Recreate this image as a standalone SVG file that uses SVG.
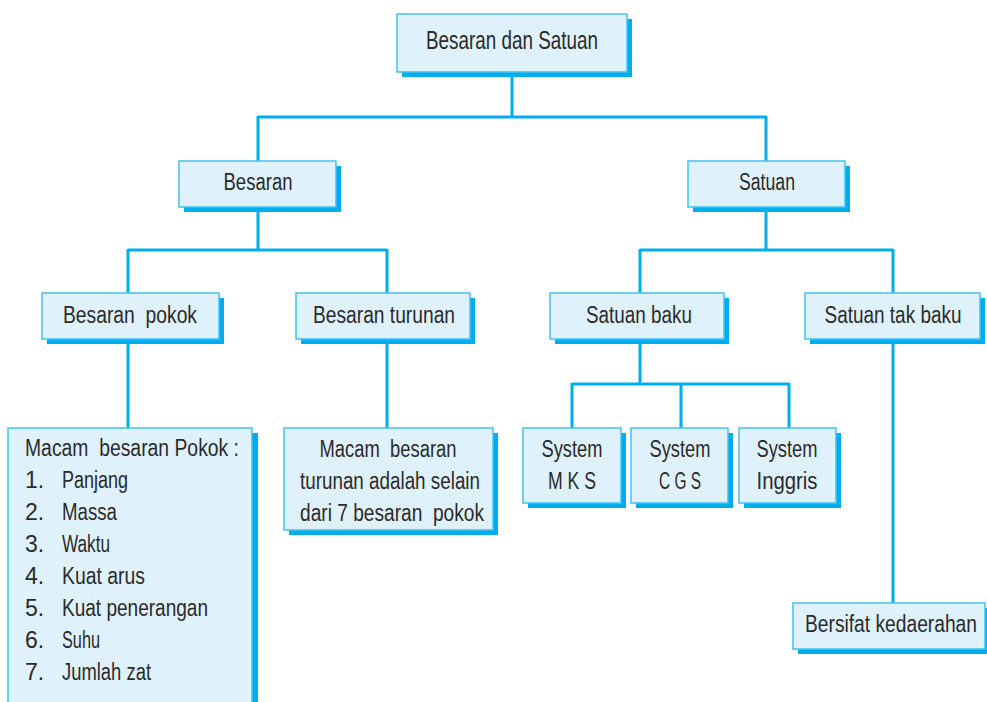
<svg xmlns="http://www.w3.org/2000/svg" width="987" height="702" viewBox="0 0 987 702">
<style>
.sh{fill:#00aeef}
.bx{fill:#dff1fb;stroke:#45c1ef;stroke-width:1.5}
text{font-family:"Liberation Sans",Arial,sans-serif;font-size:23px;fill:#2b2b2b}
.c{text-anchor:middle}
.ln{fill:none;stroke:#00aeef;stroke-width:3}
</style>
<rect width="987" height="702" fill="#fff"/>
<g id="connectors">
<path class="ln" d="M512 72V117M258 117H766M258 116V161M766 116V161"/>
<path class="ln" d="M258 207V250M128 250H387M128 249V293M387 249V293"/>
<path class="ln" d="M766 207V250M640 250H893M640 249V293M893 249V293"/>
<path class="ln" d="M128 339V428M387 339V428"/>
<path class="ln" d="M640 339V384M572 384H789M572 383V428M681 383V428M789 383V428"/>
<path class="ln" d="M893 339V603"/>
</g>
<g id="root"><rect class="sh" x="402" y="19" width="230" height="58"/><rect class="bx" x="397" y="14" width="230" height="58"/><text class="c" x="512" y="49" style="font-size:25px" textLength="172" lengthAdjust="spacingAndGlyphs">Besaran dan Satuan</text></g>
<g id="besaran"><rect class="sh" x="184" y="166" width="157" height="46"/><rect class="bx" x="179" y="161" width="157" height="46"/><text class="c" x="258" y="190" textLength="69" lengthAdjust="spacingAndGlyphs">Besaran</text></g>
<g id="satuan"><rect class="sh" x="693" y="166" width="157" height="46"/><rect class="bx" x="688" y="161" width="157" height="46"/><text class="c" x="767" y="190" textLength="56" lengthAdjust="spacingAndGlyphs">Satuan</text></g>
<g id="besaran-pokok"><rect class="sh" x="47" y="298" width="177" height="46"/><rect class="bx" x="42" y="293" width="177" height="46"/><text class="c" x="130" y="323" xml:space="preserve" textLength="134" lengthAdjust="spacingAndGlyphs">Besaran  pokok</text></g>
<g id="besaran-turunan"><rect class="sh" x="301" y="298" width="174" height="46"/><rect class="bx" x="296" y="293" width="174" height="46"/><text class="c" x="384" y="323" textLength="142" lengthAdjust="spacingAndGlyphs">Besaran turunan</text></g>
<g id="satuan-baku"><rect class="sh" x="555" y="298" width="174" height="46"/><rect class="bx" x="550" y="293" width="174" height="46"/><text class="c" x="639" y="323" textLength="106" lengthAdjust="spacingAndGlyphs">Satuan baku</text></g>
<g id="satuan-tak-baku"><rect class="sh" x="810" y="298" width="175" height="46"/><rect class="bx" x="805" y="293" width="175" height="46"/><text class="c" x="893" y="323" textLength="137" lengthAdjust="spacingAndGlyphs">Satuan tak baku</text></g>
<g id="pokok-list"><rect class="sh" x="13" y="433" width="245" height="280"/><rect class="bx" x="8" y="428" width="244" height="280"/>
<text x="25" y="456" xml:space="preserve" textLength="214" lengthAdjust="spacingAndGlyphs">Macam  besaran Pokok :</text>
<text x="25" y="488">1.</text><text x="62" y="488" textLength="66" lengthAdjust="spacingAndGlyphs">Panjang</text>
<text x="25" y="520">2.</text><text x="62" y="520" textLength="55" lengthAdjust="spacingAndGlyphs">Massa</text>
<text x="25" y="552">3.</text><text x="62" y="552" textLength="48" lengthAdjust="spacingAndGlyphs">Waktu</text>
<text x="25" y="584">4.</text><text x="62" y="584" textLength="83" lengthAdjust="spacingAndGlyphs">Kuat arus</text>
<text x="25" y="616">5.</text><text x="62" y="616" textLength="146" lengthAdjust="spacingAndGlyphs">Kuat penerangan</text>
<text x="25" y="648">6.</text><text x="62" y="648" textLength="38" lengthAdjust="spacingAndGlyphs">Suhu</text>
<text x="25" y="680">7.</text><text x="62" y="680" textLength="89" lengthAdjust="spacingAndGlyphs">Jumlah zat</text>
</g>
<g id="turunan-desc"><rect class="sh" x="289" y="433" width="209" height="102"/><rect class="bx" x="284" y="428" width="209" height="102"/>
<text class="c" x="388" y="457" xml:space="preserve" textLength="137" lengthAdjust="spacingAndGlyphs">Macam  besaran</text>
<text class="c" x="390" y="489" textLength="180" lengthAdjust="spacingAndGlyphs">turunan adalah selain</text>
<text class="c" x="392" y="521" xml:space="preserve" textLength="184" lengthAdjust="spacingAndGlyphs">dari 7 besaran  pokok</text>
</g>
<g id="mks"><rect class="sh" x="528" y="433" width="98" height="75"/><rect class="bx" x="523" y="428" width="98" height="75"/><text class="c" x="572" y="457" textLength="61" lengthAdjust="spacingAndGlyphs">System</text><text class="c" x="572" y="489" xml:space="preserve" textLength="48" lengthAdjust="spacingAndGlyphs">M K S</text></g>
<g id="cgs"><rect class="sh" x="636" y="433" width="97" height="75"/><rect class="bx" x="631" y="428" width="97" height="75"/><text class="c" x="680" y="457" textLength="61" lengthAdjust="spacingAndGlyphs">System</text><text class="c" x="680" y="489" textLength="42" lengthAdjust="spacingAndGlyphs">C G S</text></g>
<g id="inggris"><rect class="sh" x="744" y="433" width="97" height="75"/><rect class="bx" x="739" y="428" width="97" height="75"/><text class="c" x="787" y="457" textLength="61" lengthAdjust="spacingAndGlyphs">System</text><text class="c" x="787" y="489" textLength="61" lengthAdjust="spacingAndGlyphs">Inggris</text></g>
<g id="kedaerahan"><rect class="sh" x="798" y="608" width="189" height="46"/><rect class="bx" x="793" y="603" width="192" height="46"/><text class="c" x="891" y="632" textLength="172" lengthAdjust="spacingAndGlyphs">Bersifat kedaerahan</text></g>
</svg>
